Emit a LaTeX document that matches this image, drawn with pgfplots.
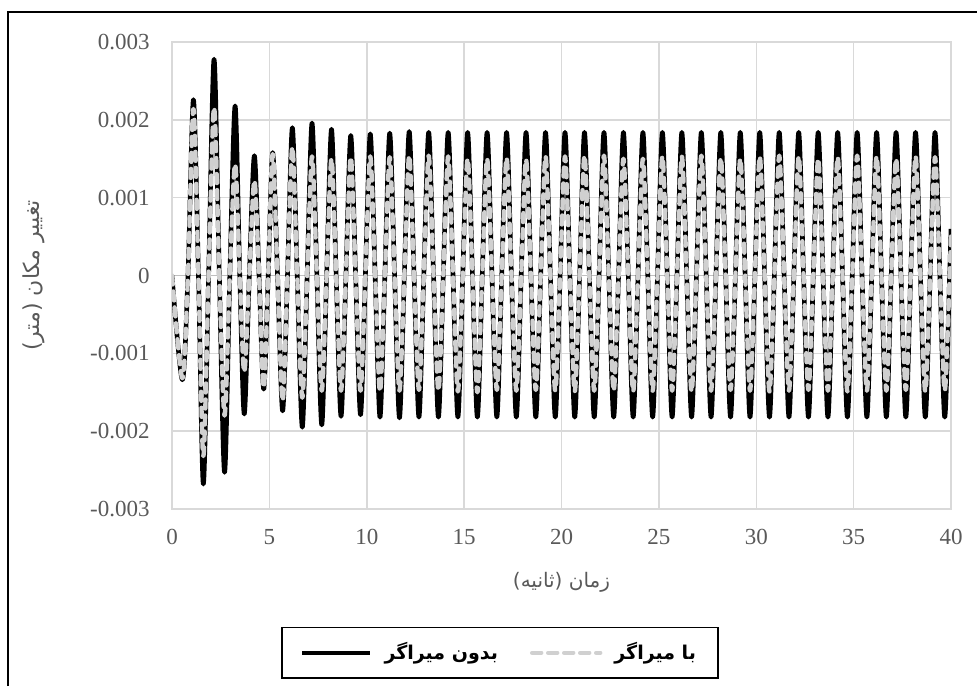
\documentclass[border=0pt]{standalone}
\usepackage{fontspec}
\setmainfont{Liberation Serif}
\newfontfamily\arabicfont[Script=Arabic]{DejaVu Sans}
\TeXXeTstate=1
\usepackage{pgfplots}
\usepackage{pgfplotstable}
\pgfplotsset{compat=1.18}

\definecolor{gridgray}{RGB}{217,217,217}
\definecolor{zerogray}{RGB}{191,191,191}
\definecolor{ticktext}{RGB}{89,89,89}
\definecolor{dampgray}{RGB}{208,208,208}

% t, without damper (b), with damper (g)
\pgfplotstableread[row sep=\\]{
t b g \\
0 0 0 \\
0.53 -0.00134 -0.00132 \\ 0.82 0 0 \\
1.10 0.00226 0.00214 \\ 1.36 0 0 \\ 1.61 -0.00268 -0.00232 \\ 1.88 0 0 \\
2.16 0.00278 0.00216 \\ 2.43 0 0 \\ 2.70 -0.00253 -0.00180 \\ 2.97 0 0 \\
3.24 0.00218 0.00143 \\ 3.48 0 0 \\ 3.71 -0.00178 -0.00124 \\ 3.97 0 0 \\
4.23 0.00154 0.00122 \\ 4.47 0 0 \\ 4.71 -0.00146 -0.00144 \\ 4.94 0 0 \\
5.17 0.00158 0.00156 \\ 5.42 0 0 \\ 5.68 -0.00174 -0.00161 \\ 5.93 0 0 \\
6.18 0.00190 0.00165 \\ 6.43 0 0 \\ 6.69 -0.00195 -0.00157 \\ 6.94 0 0 \\
7.19 0.00196 0.00153 \\ 7.44 0 0 \\ 7.69 -0.00192 -0.00148 \\ 7.94 0 0 \\
8.19 0.00188 0.00150 \\ 8.43 0 0 \\ 8.68 -0.00181 -0.00148 \\ 8.93 0 0 \\
9.18 0.00180 0.00152 \\ 9.43 0 0 \\ 9.68 -0.00179 -0.00148 \\ 9.93 0 0 \\
10.18 0.00182 0.00153 \\ 10.43 0 0 \\ 10.68 -0.00182 -0.00149 \\ 10.93 0 0 \\
11.18 0.00183 0.00152 \\ 11.43 0 0 \\ 11.68 -0.00183 -0.00148 \\ 11.93 0 0 \\
12.18 0.00185 0.00154 \\ 12.43 0 0 \\ 12.68 -0.00182 -0.00147 \\ 12.93 0 0 \\
13.18 0.00184 0.00154 \\ 13.43 0 0 \\ 13.68 -0.00182 -0.00148 \\ 13.93 0 0 \\
14.18 0.00184 0.00153 \\ 14.43 0 0 \\ 14.68 -0.00182 -0.00149 \\ 14.93 0 0 \\
15.18 0.00184 0.00150 \\ 15.43 0 0 \\ 15.68 -0.00182 -0.00150 \\ 15.93 0 0 \\
16.18 0.00184 0.00150 \\ 16.43 0 0 \\ 16.68 -0.00182 -0.00147 \\ 16.93 0 0 \\
17.18 0.00184 0.00151 \\ 17.43 0 0 \\ 17.68 -0.00182 -0.00148 \\ 17.93 0 0 \\
18.18 0.00184 0.00149 \\ 18.43 0 0 \\ 18.68 -0.00182 -0.00147 \\ 18.93 0 0 \\
19.18 0.00184 0.00153 \\ 19.43 0 0 \\ 19.68 -0.00182 -0.00148 \\ 19.93 0 0 \\
20.18 0.00184 0.00153 \\ 20.43 0 0 \\ 20.68 -0.00182 -0.00149 \\ 20.93 0 0 \\
21.18 0.00184 0.00154 \\ 21.43 0 0 \\ 21.68 -0.00182 -0.00148 \\ 21.93 0 0 \\
22.18 0.00184 0.00154 \\ 22.43 0 0 \\ 22.68 -0.00182 -0.00148 \\ 22.93 0 0 \\
23.18 0.00184 0.00150 \\ 23.43 0 0 \\ 23.68 -0.00182 -0.00149 \\ 23.93 0 0 \\
24.18 0.00184 0.00150 \\ 24.43 0 0 \\ 24.68 -0.00182 -0.00148 \\ 24.93 0 0 \\
25.18 0.00184 0.00153 \\ 25.43 0 0 \\ 25.68 -0.00182 -0.00148 \\ 25.93 0 0 \\
26.18 0.00184 0.00153 \\ 26.43 0 0 \\ 26.68 -0.00182 -0.00149 \\ 26.93 0 0 \\
27.18 0.00184 0.00154 \\ 27.43 0 0 \\ 27.68 -0.00182 -0.00148 \\ 27.93 0 0 \\
28.18 0.00184 0.00151 \\ 28.43 0 0 \\ 28.68 -0.00182 -0.00147 \\ 28.93 0 0 \\
29.18 0.00184 0.00150 \\ 29.43 0 0 \\ 29.68 -0.00182 -0.00148 \\ 29.93 0 0 \\
30.18 0.00184 0.00153 \\ 30.43 0 0 \\ 30.68 -0.00182 -0.00149 \\ 30.93 0 0 \\
31.18 0.00184 0.00154 \\ 31.43 0 0 \\ 31.68 -0.00182 -0.00148 \\ 31.93 0 0 \\
32.18 0.00184 0.00153 \\ 32.43 0 0 \\ 32.68 -0.00182 -0.00147 \\ 32.93 0 0 \\
33.18 0.00184 0.00150 \\ 33.43 0 0 \\ 33.68 -0.00182 -0.00148 \\ 33.93 0 0 \\
34.18 0.00184 0.00152 \\ 34.43 0 0 \\ 34.68 -0.00182 -0.00149 \\ 34.93 0 0 \\
35.18 0.00184 0.00154 \\ 35.43 0 0 \\ 35.68 -0.00182 -0.00148 \\ 35.93 0 0 \\
36.18 0.00184 0.00153 \\ 36.43 0 0 \\ 36.68 -0.00182 -0.00148 \\ 36.93 0 0 \\
37.18 0.00184 0.00150 \\ 37.43 0 0 \\ 37.68 -0.00182 -0.00147 \\ 37.93 0 0 \\
38.18 0.00184 0.00153 \\ 38.43 0 0 \\ 38.68 -0.00182 -0.00149 \\ 38.93 0 0 \\
39.18 0.00184 0.00152 \\ 39.43 0 0 \\ 39.68 -0.00182 -0.00148 \\ 39.93 0 0 \\
40.00 0.00060 0.00050 \\
}\disp

\begin{document}
\begin{tikzpicture}
% picture frame: 977 x 686 px at 0.5pt per px, axis origin at (172,509) px
\useasboundingbox (-86pt,-88.5pt) rectangle (402.5pt,254.5pt);
\begin{axis}[
    at={(0pt,0pt)}, anchor=south west,
    scale only axis,
    width=389.5pt, height=233.5pt,
    xmin=0, xmax=40, ymin=-0.003, ymax=0.003,
    xtick={0,5,...,40},
    ytick={-0.003,-0.002,-0.001,0,0.001,0.002,0.003},
    yticklabels={-0.003,-0.002,-0.001,0,0.001,0.002,0.003},
    scaled y ticks=false,
    /pgf/number format/assume math mode=true,
    major tick length=0pt,
    grid=major,
    major grid style={color=gridgray, line width=0.75pt},
    axis line style={draw=gridgray, line width=0.75pt},
    extra y ticks={0}, extra y tick labels={},
    extra y tick style={major grid style={color=zerogray, line width=0.75pt}},
    tick label style={font=\fontsize{11.5}{13}\selectfont, color=ticktext},
    xticklabel style={anchor=north, inner sep=0pt, yshift=-10pt},
    yticklabel style={anchor=east, inner sep=0pt, xshift=-11pt},
    xlabel={\arabicfont\beginR زمان (ثانیه)\endR},
    ylabel={\arabicfont\beginR تغییر مکان (متر)\endR},
    label style={color=ticktext},
    xlabel style={font=\fontsize{10}{12}\selectfont, at={(axis description cs:0.5,-0.156)}, anchor=center},
    ylabel style={font=\fontsize{11}{13}\selectfont, at={(axis description cs:-0.178,0.5)}, anchor=center},
    legend columns=2,
    legend style={at={(axis description cs:0.421,-0.308)}, anchor=center,
        draw=black, line width=0.75pt, font=\fontsize{9.5}{11}\selectfont,
        inner xsep=9pt, inner ysep=5.5pt,
        /tikz/every odd column/.append style={column sep=4pt},
        /tikz/every even column/.append style={column sep=14pt}},
    legend image code/.code={\draw[#1] (0pt,0pt) -- (34pt,0pt);},
]
\addplot[black, line width=2.3pt, line join=round, smooth] table[x=t, y=b] {\disp};
\addlegendentry{\arabicfont\bfseries\beginR بدون میراگر\endR}
\addplot[dampgray, line width=2.2pt, line cap=round, line join=round, dash pattern=on 4.5pt off 3.5pt, smooth] table[x=t, y=g] {\disp};
\addlegendentry{\arabicfont\bfseries\beginR با میراگر\endR}
\end{axis}
\draw[black, line width=0.75pt] (-82pt,-88.5pt) -- (-82pt,248.5pt) -- (402.5pt,248.5pt);
\end{tikzpicture}
\end{document}
